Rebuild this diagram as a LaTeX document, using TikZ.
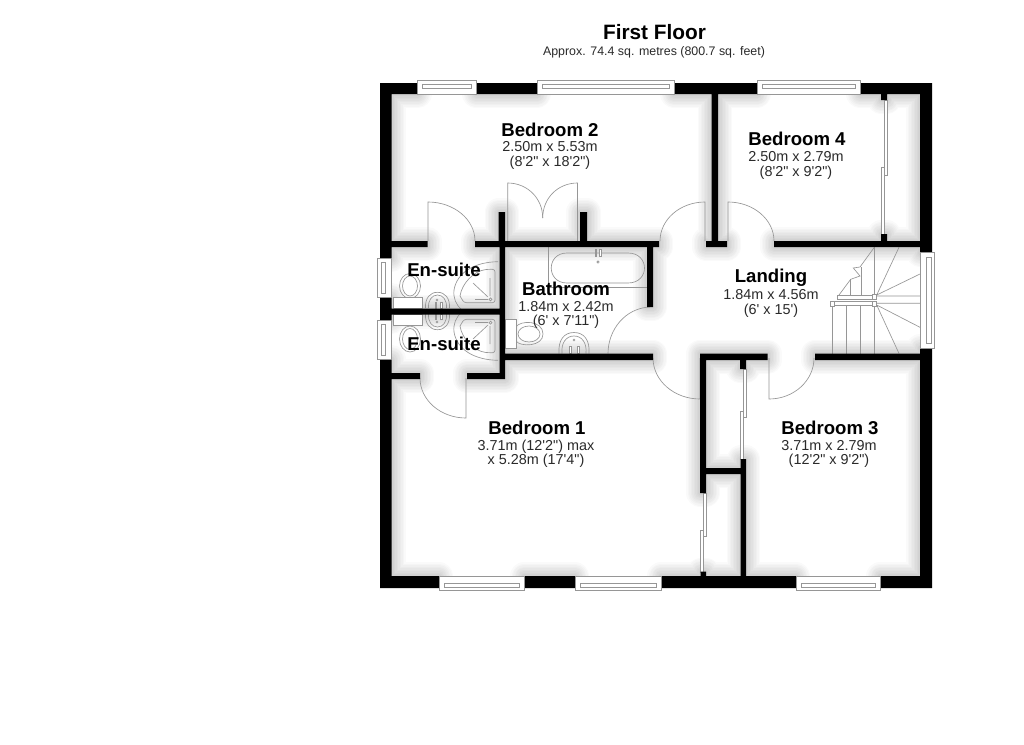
\documentclass[tikz,border=0pt]{standalone}
\usepackage{fontspec}
\setmainfont{Liberation Sans}
\newfontfamily\plainsans{Liberation Sans}
\definecolor{thin}{HTML}{969696}
\definecolor{dimtext}{HTML}{2A2A2A}
\newcommand{\fsz}[1]{\fontsize{#1}{#1}\selectfont}
\newcommand{\rr}[4]{(#1,#2) rectangle (#3,#4)}
\newcommand{\WallPath}{
 \rr{380}{83}{417.5}{94} \rr{476}{83}{537}{94} \rr{674}{83}{757}{94} \rr{860}{83}{932}{94}
 \rr{380}{576}{439}{588} \rr{524}{576}{575}{588} \rr{661}{576}{796}{588} \rr{880}{576}{932}{588}
 \rr{380}{83}{391.5}{258} \rr{380}{297}{391.5}{320} \rr{380}{359}{391.5}{588}
 \rr{920}{83}{932}{253} \rr{920}{348}{932}{588}
 \rr{391}{241}{427.5}{247} \rr{475}{241}{659}{247}
 \rr{498.5}{212}{505}{241} \rr{580}{212}{587}{241}
 \rr{499.5}{246}{505}{379}
 \rr{391}{308.5}{500}{314.5}
 \rr{391}{373}{420}{379} \rr{467}{373}{505}{379}
 \rr{505}{353.5}{653}{360}
 \rr{647}{246}{653}{307}
 \rr{711.5}{94}{718}{241} \rr{706}{241}{727}{247}
 \rr{774}{241}{920}{247}
 \rr{881}{234}{887}{241} \rr{881}{94}{887}{100}
 \rr{700}{353.5}{767.5}{360} \rr{815}{353.5}{920}{360}
 \rr{700}{353.5}{706}{493} \rr{700}{468}{746}{474}
 \rr{740.5}{459}{746}{576}
 \rr{700.5}{571.5}{706}{576}
 \rr{740}{360}{746}{369}
}
\newcommand{\vdoor}[4]{%
 \pgfmathsetmacro{\cax}{#1+0.552*(#4-#1)}%
 \pgfmathsetmacro{\cby}{#2+0.552*(#3-#2)}%
 \draw[thinline] (#1,#2) -- (#1,#3) .. controls (\cax,#3) and (#4,\cby) .. (#4,#2);}
\newcommand{\Shower}{
 \draw[thinline] (498,261.7) .. controls (475,262) and (457,272) .. (454,290) .. controls (453,298) and (456,305) .. (462,310);
 \draw[thinline,rounded corners=2.5pt] (460,296) .. controls (462,283) and (474,271) .. (488,269.3) -- (495,269.3) -- (495,302.7) -- (464,302.7) -- (460,296);
 \draw[thinline] (475,299.5) -- (488,299.5) (490,278) -- (490,296) (473,283) -- (488,297);
 \draw[thinline] (490.5,299.3) circle (1.5);
}
\newcommand{\Basin}{
 \draw[thinline] (425.5,308) .. controls (425,298) and (430,292.3) .. (437.5,292.3) .. controls (445,292.3) and (450,298) .. (449.5,308);
 \draw[thinline] (428.5,308) .. controls (428,300) and (432,295) .. (437.5,295) .. controls (443,295) and (447,300) .. (446.5,308);
 \draw[thinline] (437,300) circle (1);
 \draw[thinline,fill=white] (435,302.5) rectangle (436.5,308) (440.5,302.5) rectangle (442,308);
}
\tikzset{
 thinline/.style={draw=thin,line width=0.65pt},
 winline/.style={draw=thin,line width=0.65pt,fill=white},
 roomname/.style={font=\fsz{18.6}\plainsans\bfseries,text=black,inner sep=0pt},
 roomdim/.style={font=\fsz{14.4}\plainsans,text=dimtext,align=center,inner sep=0pt},
}
\begin{document}
\begin{tikzpicture}[x=1pt,y=-1pt]
\useasboundingbox (0,0) rectangle (1024,744);
\fill[white] (0,0) rectangle (1024,744);
% soft wall shadow
\begin{scope}
 \clip (391,94) rectangle (920,576);
 \foreach \w in {28,25,22,19,16,13,10,7,4}{
  \draw[black,opacity=0.018,line width=\w pt,line join=round] \WallPath;
 }
\end{scope}
% bath
\draw[thinline] (548,247) -- (548,287) -- (647,287);
\draw[thinline] (567,253) -- (628,253) .. controls (650,253) and (650,283) .. (628,283) -- (567,283) .. controls (546,283) and (546,253) .. (567,253);
\draw[thinline,fill=white] (595,249) rectangle (596.8,256) (599.5,249) rectangle (601.3,256);
\draw[thinline] (598,262) circle (1.2);
% bathroom toilet
\draw[thinline] (516,327) .. controls (520,320) and (543,320) .. (543,334) .. controls (543,347) and (520,347) .. (516,341);
\draw[thinline] (529,334) ellipse (11 and 8);
\draw[thinline,fill=white] (505,319) rectangle (516,348);
% bathroom basin
\draw[thinline] (559,353.5) .. controls (558,340) and (564,332.5) .. (574,332.5) .. controls (584,332.5) and (590,340) .. (589,353.5);
\draw[thinline] (562,353.5) .. controls (561,343) and (566,336) .. (574,336) .. controls (582,336) and (587,343) .. (586,353.5);
\draw[thinline] (574,340) circle (1);
\draw[thinline,fill=white] (569,346) rectangle (571,353.5) (577,346) rectangle (579,353.5);
% en-suite fixtures
\draw[thinline] (410,286) ellipse (10.5 and 12.5);
\draw[thinline] (410,286) ellipse (7.5 and 10);
\draw[thinline,fill=white] (393.3,297.7) rectangle (422.7,308.5);
\draw[thinline] (410,339) ellipse (10.5 and 13);
\draw[thinline] (410,339) ellipse (7.5 and 10.5);
\draw[thinline,fill=white] (393.3,314.5) rectangle (422.7,325);
\Basin
\Shower
\begin{scope}[shift={(0,622)},yscale=-1]
 \Basin
 \Shower
\end{scope}
% doors
\vdoor{428}{241}{202}{475}
\vdoor{466}{378}{418}{420}
\draw[thinline] (507.7,241) -- (507.7,183) .. controls (527,183) and (542.7,198) .. (542.7,218);
\draw[thinline] (577.5,241) -- (577.5,183) .. controls (558,183) and (542.7,198) .. (542.7,218);
\draw[thinline] (650,307) .. controls (625,308) and (608,330) .. (608,353.5);
\vdoor{705}{241}{202}{660}
\vdoor{728}{241}{202}{774}
\vdoor{700}{358}{399}{653}
\vdoor{769}{358}{399}{814}
% sliding wardrobe doors
\draw[thinline,fill=white] (884,100) rectangle (887,175) (881.5,167) rectangle (884,234);
\draw[thinline,fill=white] (743.3,369) rectangle (746,417) (740.3,411) rectangle (743.3,459);
\draw[thinline,fill=white] (703.3,493) rectangle (706,536) (700.8,530) rectangle (703.3,572);
% stairs
\draw[thinline] (874.3,247.3) -- (860,267) -- (853.3,268) -- (860,276) -- (850.7,279.3) -- (837.7,296.7);
\draw[thinline] (850.7,279.3) -- (850.7,296) (861.5,267) -- (861.5,296) (874.3,247.3) -- (874.3,295);
\draw[thinline] (846.7,305) -- (846.7,353.5) (860.7,305) -- (860.7,353.5) (874.3,305) -- (874.3,353.5) (832.3,305) -- (832.3,353.5);
\draw[thinline] (876.7,295) -- (899,247.3) (876.7,295) -- (920,274) (876.7,296) -- (920,296) (876.7,303.3) -- (920,303.3) (876.7,305) -- (920,327.3) (876.7,305) -- (899,353.5);
\draw[thinline,fill=white] (837.7,295.7) rectangle (873,299);
\draw[thinline,fill=white] (831,301.7) rectangle (873,305.7);
\draw[thinline,fill=white] (872.7,294.3) rectangle (876.7,299) (872.7,301.3) rectangle (876.7,306) (830,301.7) rectangle (834.3,306);
% walls
\fill[black] \WallPath;
% windows
\newcommand{\topwin}[2]{%
 \pgfmathsetmacro{\ia}{#1+5}\pgfmathsetmacro{\ib}{#2-5}%
 \draw[winline] (#1,80) rectangle (#2,94);
 \draw[thinline] (\ia,84) rectangle (\ib,88.3);}
\newcommand{\botwin}[2]{%
 \pgfmathsetmacro{\ia}{#1+5}\pgfmathsetmacro{\ib}{#2-5}%
 \draw[winline] (#1,576.5) rectangle (#2,590.7);
 \draw[thinline] (\ia,583.3) rectangle (\ib,587.3);}
\newcommand{\leftwin}[2]{%
 \pgfmathsetmacro{\ia}{#1+4}\pgfmathsetmacro{\ib}{#2-4}%
 \draw[winline] (377.5,#1) rectangle (391.5,#2);
 \draw[thinline] (381,\ia) rectangle (385.5,\ib);}
\topwin{417.5}{476}
\topwin{537}{674}
\topwin{757}{860}
\botwin{439}{524}
\botwin{575}{661}
\botwin{796}{880}
\leftwin{258}{297}
\leftwin{320}{359}
\draw[winline] (920,252.7) rectangle (934.3,348.3);
\draw[thinline] (926.7,257.3) rectangle (931.7,343.3);
% text
\node[font=\fsz{20.8}\plainsans\bfseries,inner sep=0pt] (title) at (654.5,32) {First Floor};
\node[font=\fsz{12.4}\plainsans,text=dimtext,inner sep=0pt] (subtitle) at (654,52) {Approx. 74.4 sq. metres (800.7 sq. feet)};
\node[roomname] (bed2) at (550,130) {Bedroom 2};
\node[roomdim] (bed2d) at (550,155.5) {2.50m x 5.53m\\(8'2" x 18'2")};
\node[roomname] (bed4) at (797,139) {Bedroom 4};
\node[roomdim] (bed4d) at (796,165.5) {2.50m x 2.79m\\(8'2" x 9'2")};
\node[roomname] (land) at (771,278) {Landing};
\node[roomdim] (landd) at (771,303.5) {1.84m x 4.56m\\(6' x 15')};
\node[roomname] (bath) at (566,289) {Bathroom};
\node[roomdim] (bathd) at (566,315) {1.84m x 2.42m\\(6' x 7'11")};
\node[roomname] (en1) at (444,270) {En-suite};
\node[roomname] (en2) at (444,344) {En-suite};
\node[roomname] (bed1) at (537,428) {Bedroom 1};
\node[roomdim] (bed1d) at (536,454) {3.71m (12'2") max\\x 5.28m (17'4")};
\node[roomname] (bed3) at (830,428) {Bedroom 3};
\node[roomdim] (bed3d) at (829,454) {3.71m x 2.79m\\(12'2" x 9'2")};
\end{tikzpicture}
\end{document}
